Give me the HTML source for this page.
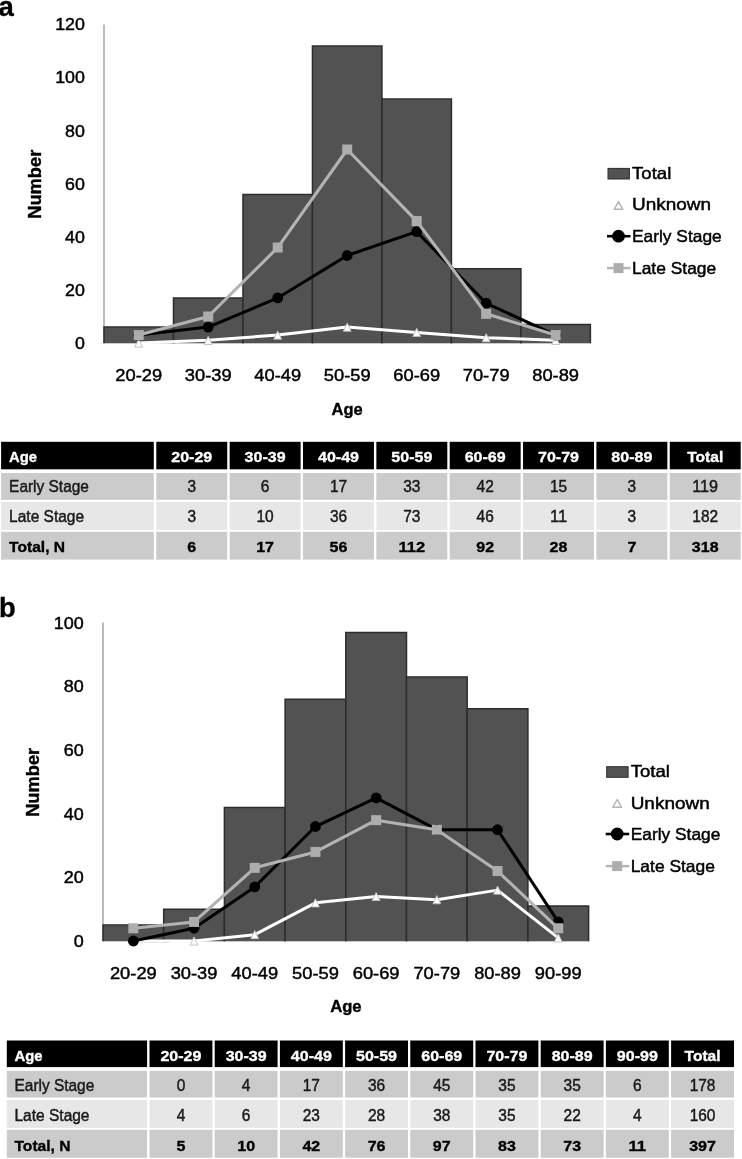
<!DOCTYPE html>
<html><head><meta charset="utf-8"><title>Figure</title>
<style>
html,body{margin:0;padding:0;background:#fff;}
body{width:742px;height:1159px;overflow:hidden;font-family:"Liberation Sans", sans-serif;}
svg{display:block;will-change:transform;transform:translateZ(0);}
</style></head><body>
<svg width="742" height="1159" viewBox="0 0 742 1159" font-family='"Liberation Sans", sans-serif'>
<rect width="742" height="1159" fill="#fff"/>
<text x="-1.50" y="15.60" font-size="27.5" text-anchor="start" fill="#000" font-weight="bold" stroke="#000" stroke-width="0.35">a</text>
<text x="-0.90" y="617.00" font-size="27.3" text-anchor="start" fill="#000" font-weight="bold" stroke="#000" stroke-width="0.35">b</text>
<line x1="104" y1="24.4" x2="104" y2="343" stroke="#a0a0a0" stroke-width="1.4"/>
<rect x="104.00" y="327.10" width="69.49" height="16.21" fill="#525252"/>
<path d="M104.00 343.30 V327.10 H173.49 V343.30" fill="none" stroke="#2d2d2d" stroke-width="1.5"/>
<rect x="173.49" y="297.94" width="69.49" height="45.36" fill="#525252"/>
<path d="M173.49 343.30 V297.94 H242.97 V343.30" fill="none" stroke="#2d2d2d" stroke-width="1.5"/>
<rect x="242.97" y="194.55" width="69.49" height="148.75" fill="#525252"/>
<path d="M242.97 343.30 V194.55 H312.46 V343.30" fill="none" stroke="#2d2d2d" stroke-width="1.5"/>
<rect x="312.46" y="46.11" width="69.49" height="297.19" fill="#525252"/>
<path d="M312.46 343.30 V46.11 H381.94 V343.30" fill="none" stroke="#2d2d2d" stroke-width="1.5"/>
<rect x="381.94" y="99.12" width="69.49" height="244.18" fill="#525252"/>
<path d="M381.94 343.30 V99.12 H451.43 V343.30" fill="none" stroke="#2d2d2d" stroke-width="1.5"/>
<rect x="451.43" y="268.78" width="69.49" height="74.52" fill="#525252"/>
<path d="M451.43 343.30 V268.78 H520.91 V343.30" fill="none" stroke="#2d2d2d" stroke-width="1.5"/>
<rect x="520.91" y="324.44" width="69.49" height="18.86" fill="#525252"/>
<path d="M520.91 343.30 V324.44 H590.40 V343.30" fill="none" stroke="#2d2d2d" stroke-width="1.5"/>
<text x="84.90" y="348.99" font-size="17" text-anchor="end" fill="#000" stroke="#000" stroke-width="0.45" textLength="9.90" lengthAdjust="spacingAndGlyphs">0</text>
<text x="84.90" y="295.89" font-size="17" text-anchor="end" fill="#000" stroke="#000" stroke-width="0.45" textLength="19.80" lengthAdjust="spacingAndGlyphs">20</text>
<text x="84.90" y="242.79" font-size="17" text-anchor="end" fill="#000" stroke="#000" stroke-width="0.45" textLength="19.80" lengthAdjust="spacingAndGlyphs">40</text>
<text x="84.90" y="189.69" font-size="17" text-anchor="end" fill="#000" stroke="#000" stroke-width="0.45" textLength="19.80" lengthAdjust="spacingAndGlyphs">60</text>
<text x="84.90" y="136.59" font-size="17" text-anchor="end" fill="#000" stroke="#000" stroke-width="0.45" textLength="19.80" lengthAdjust="spacingAndGlyphs">80</text>
<text x="84.90" y="83.49" font-size="17" text-anchor="end" fill="#000" stroke="#000" stroke-width="0.45" textLength="29.70" lengthAdjust="spacingAndGlyphs">100</text>
<text x="84.90" y="30.39" font-size="17" text-anchor="end" fill="#000" stroke="#000" stroke-width="0.45" textLength="29.70" lengthAdjust="spacingAndGlyphs">120</text>
<text x="138.74" y="381.29" font-size="17" text-anchor="middle" fill="#000" stroke="#000" stroke-width="0.45" textLength="46.80" lengthAdjust="spacingAndGlyphs">20-29</text>
<text x="208.23" y="381.29" font-size="17" text-anchor="middle" fill="#000" stroke="#000" stroke-width="0.45" textLength="46.80" lengthAdjust="spacingAndGlyphs">30-39</text>
<text x="277.71" y="381.29" font-size="17" text-anchor="middle" fill="#000" stroke="#000" stroke-width="0.45" textLength="46.80" lengthAdjust="spacingAndGlyphs">40-49</text>
<text x="347.20" y="381.29" font-size="17" text-anchor="middle" fill="#000" stroke="#000" stroke-width="0.45" textLength="46.80" lengthAdjust="spacingAndGlyphs">50-59</text>
<text x="416.69" y="381.29" font-size="17" text-anchor="middle" fill="#000" stroke="#000" stroke-width="0.45" textLength="46.80" lengthAdjust="spacingAndGlyphs">60-69</text>
<text x="486.17" y="381.29" font-size="17" text-anchor="middle" fill="#000" stroke="#000" stroke-width="0.45" textLength="46.80" lengthAdjust="spacingAndGlyphs">70-79</text>
<text x="555.66" y="381.29" font-size="17" text-anchor="middle" fill="#000" stroke="#000" stroke-width="0.45" textLength="46.80" lengthAdjust="spacingAndGlyphs">80-89</text>
<polyline points="138.74,343.00 208.23,340.35 277.71,335.05 347.20,327.10 416.69,332.40 486.17,337.70 555.66,340.35" fill="none" stroke="#fff" stroke-width="3" stroke-linejoin="round"/>
<path d="M138.74 338.90 L142.64 347.10 L134.84 347.10 Z" fill="#fff" stroke="#bcbcbc" stroke-width="0.9"/>
<path d="M208.23 336.25 L212.13 344.45 L204.33 344.45 Z" fill="#fff" stroke="#bcbcbc" stroke-width="0.9"/>
<path d="M277.71 330.95 L281.61 339.15 L273.81 339.15 Z" fill="#fff" stroke="#bcbcbc" stroke-width="0.9"/>
<path d="M347.20 323.00 L351.10 331.20 L343.30 331.20 Z" fill="#fff" stroke="#bcbcbc" stroke-width="0.9"/>
<path d="M416.69 328.30 L420.59 336.50 L412.79 336.50 Z" fill="#fff" stroke="#bcbcbc" stroke-width="0.9"/>
<path d="M486.17 333.60 L490.07 341.80 L482.27 341.80 Z" fill="#fff" stroke="#bcbcbc" stroke-width="0.9"/>
<path d="M555.66 336.25 L559.56 344.45 L551.76 344.45 Z" fill="#fff" stroke="#bcbcbc" stroke-width="0.9"/>
<polyline points="138.74,335.05 208.23,327.10 277.71,297.94 347.20,255.52 416.69,231.66 486.17,303.24 555.66,335.05" fill="none" stroke="#000" stroke-width="3" stroke-linejoin="round"/>
<circle cx="138.74" cy="335.05" r="5.4" fill="#000"/>
<circle cx="208.23" cy="327.10" r="5.4" fill="#000"/>
<circle cx="277.71" cy="297.94" r="5.4" fill="#000"/>
<circle cx="347.20" cy="255.52" r="5.4" fill="#000"/>
<circle cx="416.69" cy="231.66" r="5.4" fill="#000"/>
<circle cx="486.17" cy="303.24" r="5.4" fill="#000"/>
<circle cx="555.66" cy="335.05" r="5.4" fill="#000"/>
<polyline points="138.74,335.05 208.23,316.49 277.71,247.57 347.20,149.49 416.69,221.06 486.17,313.84 555.66,335.05" fill="none" stroke="#b3b3b3" stroke-width="3.1" stroke-linejoin="round"/>
<rect x="133.74" y="330.05" width="10" height="10" fill="#adadad"/>
<rect x="203.23" y="311.49" width="10" height="10" fill="#adadad"/>
<rect x="272.71" y="242.57" width="10" height="10" fill="#adadad"/>
<rect x="342.20" y="144.49" width="10" height="10" fill="#adadad"/>
<rect x="411.69" y="216.06" width="10" height="10" fill="#adadad"/>
<rect x="481.17" y="308.84" width="10" height="10" fill="#adadad"/>
<rect x="550.66" y="330.05" width="10" height="10" fill="#adadad"/>
<rect x="608.00" y="168.40" width="21.4" height="10.6" fill="#525252" stroke="#2d2d2d" stroke-width="1"/>
<text x="632.00" y="178.61" font-size="16.5" text-anchor="start" fill="#000" stroke="#000" stroke-width="0.45" textLength="39.30" lengthAdjust="spacingAndGlyphs">Total</text>
<path d="M618.50 201.60 L622.80 209.30 L614.20 209.30 Z" fill="#fff" stroke="#b4b4b4" stroke-width="1.4" stroke-linejoin="round"/>
<text x="632.00" y="210.41" font-size="16.5" text-anchor="start" fill="#000" stroke="#000" stroke-width="0.45" textLength="79.00" lengthAdjust="spacingAndGlyphs">Unknown</text>
<line x1="607.00" y1="236.2" x2="630.50" y2="236.2" stroke="#000" stroke-width="2.6"/>
<circle cx="618.50" cy="236.2" r="6.4" fill="#000"/>
<text x="632.00" y="241.71" font-size="16.5" text-anchor="start" fill="#000" stroke="#000" stroke-width="0.45" textLength="89.70" lengthAdjust="spacingAndGlyphs">Early Stage</text>
<line x1="607.00" y1="268.1" x2="630.50" y2="268.1" stroke="#b3b3b3" stroke-width="2.4"/>
<rect x="613.50" y="263.1" width="10" height="10" fill="#adadad"/>
<text x="632.00" y="273.71" font-size="16.5" text-anchor="start" fill="#000" stroke="#000" stroke-width="0.45" textLength="84.20" lengthAdjust="spacingAndGlyphs">Late Stage</text>
<line x1="176" y1="343.5" x2="204" y2="343.5" stroke="#cdcdcd" stroke-width="0.9"/>
<text x="347.20" y="414.80" font-size="16.5" text-anchor="middle" fill="#000" font-weight="bold" stroke="#000" stroke-width="0.35">Age</text>
<text x="40.60" y="184.20" font-size="18.3" text-anchor="middle" fill="#000" font-weight="bold" stroke="#000" stroke-width="0.35" transform="rotate(-90 40.60 184.20)">Number</text>
<line x1="103" y1="622.4" x2="103" y2="941" stroke="#a0a0a0" stroke-width="1.4"/>
<rect x="103.00" y="925.10" width="60.70" height="16.20" fill="#525252"/>
<path d="M103.00 941.30 V925.10 H163.70 V941.30" fill="none" stroke="#2d2d2d" stroke-width="1.5"/>
<rect x="163.70" y="909.20" width="60.70" height="32.10" fill="#525252"/>
<path d="M163.70 941.30 V909.20 H224.40 V941.30" fill="none" stroke="#2d2d2d" stroke-width="1.5"/>
<rect x="224.40" y="807.44" width="60.70" height="133.86" fill="#525252"/>
<path d="M224.40 941.30 V807.44 H285.10 V941.30" fill="none" stroke="#2d2d2d" stroke-width="1.5"/>
<rect x="285.10" y="699.32" width="60.70" height="241.98" fill="#525252"/>
<path d="M285.10 941.30 V699.32 H345.80 V941.30" fill="none" stroke="#2d2d2d" stroke-width="1.5"/>
<rect x="345.80" y="632.54" width="60.70" height="308.76" fill="#525252"/>
<path d="M345.80 941.30 V632.54 H406.50 V941.30" fill="none" stroke="#2d2d2d" stroke-width="1.5"/>
<rect x="406.50" y="677.06" width="60.70" height="264.24" fill="#525252"/>
<path d="M406.50 941.30 V677.06 H467.20 V941.30" fill="none" stroke="#2d2d2d" stroke-width="1.5"/>
<rect x="467.20" y="708.86" width="60.70" height="232.44" fill="#525252"/>
<path d="M467.20 941.30 V708.86 H527.90 V941.30" fill="none" stroke="#2d2d2d" stroke-width="1.5"/>
<rect x="527.90" y="906.02" width="60.70" height="35.28" fill="#525252"/>
<path d="M527.90 941.30 V906.02 H588.60 V941.30" fill="none" stroke="#2d2d2d" stroke-width="1.5"/>
<text x="83.80" y="947.09" font-size="17" text-anchor="end" fill="#000" stroke="#000" stroke-width="0.45" textLength="10.00" lengthAdjust="spacingAndGlyphs">0</text>
<text x="83.80" y="883.41" font-size="17" text-anchor="end" fill="#000" stroke="#000" stroke-width="0.45" textLength="20.00" lengthAdjust="spacingAndGlyphs">20</text>
<text x="83.80" y="819.73" font-size="17" text-anchor="end" fill="#000" stroke="#000" stroke-width="0.45" textLength="20.00" lengthAdjust="spacingAndGlyphs">40</text>
<text x="83.80" y="756.05" font-size="17" text-anchor="end" fill="#000" stroke="#000" stroke-width="0.45" textLength="20.00" lengthAdjust="spacingAndGlyphs">60</text>
<text x="83.80" y="692.37" font-size="17" text-anchor="end" fill="#000" stroke="#000" stroke-width="0.45" textLength="20.00" lengthAdjust="spacingAndGlyphs">80</text>
<text x="83.80" y="628.69" font-size="17" text-anchor="end" fill="#000" stroke="#000" stroke-width="0.45" textLength="30.00" lengthAdjust="spacingAndGlyphs">100</text>
<text x="133.35" y="979.09" font-size="17" text-anchor="middle" fill="#000" stroke="#000" stroke-width="0.45" textLength="46.80" lengthAdjust="spacingAndGlyphs">20-29</text>
<text x="194.05" y="979.09" font-size="17" text-anchor="middle" fill="#000" stroke="#000" stroke-width="0.45" textLength="46.80" lengthAdjust="spacingAndGlyphs">30-39</text>
<text x="254.75" y="979.09" font-size="17" text-anchor="middle" fill="#000" stroke="#000" stroke-width="0.45" textLength="46.80" lengthAdjust="spacingAndGlyphs">40-49</text>
<text x="315.45" y="979.09" font-size="17" text-anchor="middle" fill="#000" stroke="#000" stroke-width="0.45" textLength="46.80" lengthAdjust="spacingAndGlyphs">50-59</text>
<text x="376.15" y="979.09" font-size="17" text-anchor="middle" fill="#000" stroke="#000" stroke-width="0.45" textLength="46.80" lengthAdjust="spacingAndGlyphs">60-69</text>
<text x="436.85" y="979.09" font-size="17" text-anchor="middle" fill="#000" stroke="#000" stroke-width="0.45" textLength="46.80" lengthAdjust="spacingAndGlyphs">70-79</text>
<text x="497.55" y="979.09" font-size="17" text-anchor="middle" fill="#000" stroke="#000" stroke-width="0.45" textLength="46.80" lengthAdjust="spacingAndGlyphs">80-89</text>
<text x="558.25" y="979.09" font-size="17" text-anchor="middle" fill="#000" stroke="#000" stroke-width="0.45" textLength="46.80" lengthAdjust="spacingAndGlyphs">90-99</text>
<polyline points="133.35,941.00 194.05,941.00 254.75,934.64 315.45,902.84 376.15,896.48 436.85,899.66 497.55,890.12 558.25,937.82" fill="none" stroke="#fff" stroke-width="3" stroke-linejoin="round"/>
<path d="M133.35 936.90 L137.25 945.10 L129.45 945.10 Z" fill="#fff" stroke="#bcbcbc" stroke-width="0.9"/>
<path d="M194.05 936.90 L197.95 945.10 L190.15 945.10 Z" fill="#fff" stroke="#bcbcbc" stroke-width="0.9"/>
<path d="M254.75 930.54 L258.65 938.74 L250.85 938.74 Z" fill="#fff" stroke="#bcbcbc" stroke-width="0.9"/>
<path d="M315.45 898.74 L319.35 906.94 L311.55 906.94 Z" fill="#fff" stroke="#bcbcbc" stroke-width="0.9"/>
<path d="M376.15 892.38 L380.05 900.58 L372.25 900.58 Z" fill="#fff" stroke="#bcbcbc" stroke-width="0.9"/>
<path d="M436.85 895.56 L440.75 903.76 L432.95 903.76 Z" fill="#fff" stroke="#bcbcbc" stroke-width="0.9"/>
<path d="M497.55 886.02 L501.45 894.22 L493.65 894.22 Z" fill="#fff" stroke="#bcbcbc" stroke-width="0.9"/>
<path d="M558.25 933.72 L562.15 941.92 L554.35 941.92 Z" fill="#fff" stroke="#bcbcbc" stroke-width="0.9"/>
<polyline points="133.35,941.00 194.05,928.28 254.75,886.94 315.45,826.52 376.15,797.90 436.85,829.70 497.55,829.70 558.25,921.92" fill="none" stroke="#000" stroke-width="3" stroke-linejoin="round"/>
<circle cx="133.35" cy="941.00" r="5.4" fill="#000"/>
<circle cx="194.05" cy="928.28" r="5.4" fill="#000"/>
<circle cx="254.75" cy="886.94" r="5.4" fill="#000"/>
<circle cx="315.45" cy="826.52" r="5.4" fill="#000"/>
<circle cx="376.15" cy="797.90" r="5.4" fill="#000"/>
<circle cx="436.85" cy="829.70" r="5.4" fill="#000"/>
<circle cx="497.55" cy="829.70" r="5.4" fill="#000"/>
<circle cx="558.25" cy="921.92" r="5.4" fill="#000"/>
<polyline points="133.35,928.28 194.05,921.92 254.75,867.86 315.45,851.96 376.15,820.16 436.85,829.70 497.55,871.04 558.25,928.28" fill="none" stroke="#b3b3b3" stroke-width="3.1" stroke-linejoin="round"/>
<rect x="128.35" y="923.28" width="10" height="10" fill="#adadad"/>
<rect x="189.05" y="916.92" width="10" height="10" fill="#adadad"/>
<rect x="249.75" y="862.86" width="10" height="10" fill="#adadad"/>
<rect x="310.45" y="846.96" width="10" height="10" fill="#adadad"/>
<rect x="371.15" y="815.16" width="10" height="10" fill="#adadad"/>
<rect x="431.85" y="824.70" width="10" height="10" fill="#adadad"/>
<rect x="492.55" y="866.04" width="10" height="10" fill="#adadad"/>
<rect x="553.25" y="923.28" width="10" height="10" fill="#adadad"/>
<rect x="606.70" y="766.70" width="21.4" height="10.6" fill="#525252" stroke="#2d2d2d" stroke-width="1"/>
<text x="630.70" y="777.11" font-size="16.5" text-anchor="start" fill="#000" stroke="#000" stroke-width="0.45" textLength="39.30" lengthAdjust="spacingAndGlyphs">Total</text>
<path d="M617.20 799.50 L621.50 807.20 L612.90 807.20 Z" fill="#fff" stroke="#b4b4b4" stroke-width="1.4" stroke-linejoin="round"/>
<text x="630.70" y="808.71" font-size="16.5" text-anchor="start" fill="#000" stroke="#000" stroke-width="0.45" textLength="79.00" lengthAdjust="spacingAndGlyphs">Unknown</text>
<line x1="605.70" y1="834.0" x2="629.20" y2="834.0" stroke="#000" stroke-width="2.6"/>
<circle cx="617.20" cy="834.0" r="6.4" fill="#000"/>
<text x="630.70" y="839.91" font-size="16.5" text-anchor="start" fill="#000" stroke="#000" stroke-width="0.45" textLength="89.70" lengthAdjust="spacingAndGlyphs">Early Stage</text>
<line x1="605.70" y1="866.1" x2="629.20" y2="866.1" stroke="#b3b3b3" stroke-width="2.4"/>
<rect x="612.20" y="861.1" width="10" height="10" fill="#adadad"/>
<text x="630.70" y="871.81" font-size="16.5" text-anchor="start" fill="#000" stroke="#000" stroke-width="0.45" textLength="84.20" lengthAdjust="spacingAndGlyphs">Late Stage</text>
<line x1="140" y1="942.2" x2="170" y2="942.2" stroke="#d6d6d6" stroke-width="0.8"/>
<text x="345.90" y="1012.10" font-size="16.7" text-anchor="middle" fill="#000" font-weight="bold" stroke="#000" stroke-width="0.35">Age</text>
<text x="39.40" y="782.30" font-size="18.3" text-anchor="middle" fill="#000" font-weight="bold" stroke="#000" stroke-width="0.35" transform="rotate(-90 39.40 782.30)">Number</text>
<rect x="1.1" y="441.8" width="152.70" height="27.50" fill="#000"/>
<rect x="156.30" y="441.8" width="70.95" height="27.50" fill="#000"/>
<rect x="229.65" y="441.8" width="70.95" height="27.50" fill="#000"/>
<rect x="303.00" y="441.8" width="70.95" height="27.50" fill="#000"/>
<rect x="376.35" y="441.8" width="70.95" height="27.50" fill="#000"/>
<rect x="449.70" y="441.8" width="70.95" height="27.50" fill="#000"/>
<rect x="523.05" y="441.8" width="70.95" height="27.50" fill="#000"/>
<rect x="596.40" y="441.8" width="70.95" height="27.50" fill="#000"/>
<rect x="669.75" y="441.8" width="70.95" height="27.50" fill="#000"/>
<rect x="1.1" y="473.0" width="152.70" height="26.90" fill="#cbcbcb"/>
<rect x="156.30" y="473.0" width="70.95" height="26.90" fill="#cbcbcb"/>
<rect x="229.65" y="473.0" width="70.95" height="26.90" fill="#cbcbcb"/>
<rect x="303.00" y="473.0" width="70.95" height="26.90" fill="#cbcbcb"/>
<rect x="376.35" y="473.0" width="70.95" height="26.90" fill="#cbcbcb"/>
<rect x="449.70" y="473.0" width="70.95" height="26.90" fill="#cbcbcb"/>
<rect x="523.05" y="473.0" width="70.95" height="26.90" fill="#cbcbcb"/>
<rect x="596.40" y="473.0" width="70.95" height="26.90" fill="#cbcbcb"/>
<rect x="669.75" y="473.0" width="70.95" height="26.90" fill="#cbcbcb"/>
<rect x="1.1" y="501.9" width="152.70" height="27.90" fill="#e7e7e7"/>
<rect x="156.30" y="501.9" width="70.95" height="27.90" fill="#e7e7e7"/>
<rect x="229.65" y="501.9" width="70.95" height="27.90" fill="#e7e7e7"/>
<rect x="303.00" y="501.9" width="70.95" height="27.90" fill="#e7e7e7"/>
<rect x="376.35" y="501.9" width="70.95" height="27.90" fill="#e7e7e7"/>
<rect x="449.70" y="501.9" width="70.95" height="27.90" fill="#e7e7e7"/>
<rect x="523.05" y="501.9" width="70.95" height="27.90" fill="#e7e7e7"/>
<rect x="596.40" y="501.9" width="70.95" height="27.90" fill="#e7e7e7"/>
<rect x="669.75" y="501.9" width="70.95" height="27.90" fill="#e7e7e7"/>
<rect x="1.1" y="531.8" width="152.70" height="27.80" fill="#cbcbcb"/>
<rect x="156.30" y="531.8" width="70.95" height="27.80" fill="#cbcbcb"/>
<rect x="229.65" y="531.8" width="70.95" height="27.80" fill="#cbcbcb"/>
<rect x="303.00" y="531.8" width="70.95" height="27.80" fill="#cbcbcb"/>
<rect x="376.35" y="531.8" width="70.95" height="27.80" fill="#cbcbcb"/>
<rect x="449.70" y="531.8" width="70.95" height="27.80" fill="#cbcbcb"/>
<rect x="523.05" y="531.8" width="70.95" height="27.80" fill="#cbcbcb"/>
<rect x="596.40" y="531.8" width="70.95" height="27.80" fill="#cbcbcb"/>
<rect x="669.75" y="531.8" width="70.95" height="27.80" fill="#cbcbcb"/>
<text x="9.10" y="462.40" font-size="15.5" text-anchor="start" fill="#fff" font-weight="bold" stroke="#fff" stroke-width="0.35" textLength="28.00" lengthAdjust="spacingAndGlyphs">Age</text>
<text x="191.78" y="462.40" font-size="15.5" text-anchor="middle" fill="#fff" font-weight="bold" stroke="#fff" stroke-width="0.35" textLength="41.00" lengthAdjust="spacingAndGlyphs">20-29</text>
<text x="265.12" y="462.40" font-size="15.5" text-anchor="middle" fill="#fff" font-weight="bold" stroke="#fff" stroke-width="0.35" textLength="41.00" lengthAdjust="spacingAndGlyphs">30-39</text>
<text x="338.48" y="462.40" font-size="15.5" text-anchor="middle" fill="#fff" font-weight="bold" stroke="#fff" stroke-width="0.35" textLength="41.00" lengthAdjust="spacingAndGlyphs">40-49</text>
<text x="411.83" y="462.40" font-size="15.5" text-anchor="middle" fill="#fff" font-weight="bold" stroke="#fff" stroke-width="0.35" textLength="41.00" lengthAdjust="spacingAndGlyphs">50-59</text>
<text x="485.17" y="462.40" font-size="15.5" text-anchor="middle" fill="#fff" font-weight="bold" stroke="#fff" stroke-width="0.35" textLength="41.00" lengthAdjust="spacingAndGlyphs">60-69</text>
<text x="558.52" y="462.40" font-size="15.5" text-anchor="middle" fill="#fff" font-weight="bold" stroke="#fff" stroke-width="0.35" textLength="41.00" lengthAdjust="spacingAndGlyphs">70-79</text>
<text x="631.88" y="462.40" font-size="15.5" text-anchor="middle" fill="#fff" font-weight="bold" stroke="#fff" stroke-width="0.35" textLength="41.00" lengthAdjust="spacingAndGlyphs">80-89</text>
<text x="705.23" y="462.40" font-size="15.5" text-anchor="middle" fill="#fff" font-weight="bold" stroke="#fff" stroke-width="0.35" textLength="36.00" lengthAdjust="spacingAndGlyphs">Total</text>
<text x="9.10" y="492.40" font-size="16" text-anchor="start" fill="#1a1a1a" stroke="#1a1a1a" stroke-width="0.45" textLength="79.80" lengthAdjust="spacingAndGlyphs">Early Stage</text>
<text x="191.78" y="492.40" font-size="16" text-anchor="middle" fill="#1a1a1a" stroke="#1a1a1a" stroke-width="0.45" textLength="8.60" lengthAdjust="spacingAndGlyphs">3</text>
<text x="265.12" y="492.40" font-size="16" text-anchor="middle" fill="#1a1a1a" stroke="#1a1a1a" stroke-width="0.45" textLength="8.60" lengthAdjust="spacingAndGlyphs">6</text>
<text x="338.48" y="492.40" font-size="16" text-anchor="middle" fill="#1a1a1a" stroke="#1a1a1a" stroke-width="0.45" textLength="17.20" lengthAdjust="spacingAndGlyphs">17</text>
<text x="411.83" y="492.40" font-size="16" text-anchor="middle" fill="#1a1a1a" stroke="#1a1a1a" stroke-width="0.45" textLength="17.20" lengthAdjust="spacingAndGlyphs">33</text>
<text x="485.17" y="492.40" font-size="16" text-anchor="middle" fill="#1a1a1a" stroke="#1a1a1a" stroke-width="0.45" textLength="17.20" lengthAdjust="spacingAndGlyphs">42</text>
<text x="558.52" y="492.40" font-size="16" text-anchor="middle" fill="#1a1a1a" stroke="#1a1a1a" stroke-width="0.45" textLength="17.20" lengthAdjust="spacingAndGlyphs">15</text>
<text x="631.88" y="492.40" font-size="16" text-anchor="middle" fill="#1a1a1a" stroke="#1a1a1a" stroke-width="0.45" textLength="8.60" lengthAdjust="spacingAndGlyphs">3</text>
<text x="705.23" y="492.40" font-size="16" text-anchor="middle" fill="#1a1a1a" stroke="#1a1a1a" stroke-width="0.45" textLength="25.80" lengthAdjust="spacingAndGlyphs">119</text>
<text x="9.10" y="522.40" font-size="16" text-anchor="start" fill="#1a1a1a" stroke="#1a1a1a" stroke-width="0.45" textLength="75.00" lengthAdjust="spacingAndGlyphs">Late Stage</text>
<text x="191.78" y="522.40" font-size="16" text-anchor="middle" fill="#1a1a1a" stroke="#1a1a1a" stroke-width="0.45" textLength="8.60" lengthAdjust="spacingAndGlyphs">3</text>
<text x="265.12" y="522.40" font-size="16" text-anchor="middle" fill="#1a1a1a" stroke="#1a1a1a" stroke-width="0.45" textLength="17.20" lengthAdjust="spacingAndGlyphs">10</text>
<text x="338.48" y="522.40" font-size="16" text-anchor="middle" fill="#1a1a1a" stroke="#1a1a1a" stroke-width="0.45" textLength="17.20" lengthAdjust="spacingAndGlyphs">36</text>
<text x="411.83" y="522.40" font-size="16" text-anchor="middle" fill="#1a1a1a" stroke="#1a1a1a" stroke-width="0.45" textLength="17.20" lengthAdjust="spacingAndGlyphs">73</text>
<text x="485.17" y="522.40" font-size="16" text-anchor="middle" fill="#1a1a1a" stroke="#1a1a1a" stroke-width="0.45" textLength="17.20" lengthAdjust="spacingAndGlyphs">46</text>
<text x="558.52" y="522.40" font-size="16" text-anchor="middle" fill="#1a1a1a" stroke="#1a1a1a" stroke-width="0.45" textLength="17.20" lengthAdjust="spacingAndGlyphs">11</text>
<text x="631.88" y="522.40" font-size="16" text-anchor="middle" fill="#1a1a1a" stroke="#1a1a1a" stroke-width="0.45" textLength="8.60" lengthAdjust="spacingAndGlyphs">3</text>
<text x="705.23" y="522.40" font-size="16" text-anchor="middle" fill="#1a1a1a" stroke="#1a1a1a" stroke-width="0.45" textLength="25.80" lengthAdjust="spacingAndGlyphs">182</text>
<text x="9.10" y="552.40" font-size="15.5" text-anchor="start" fill="#000" font-weight="bold" stroke="#000" stroke-width="0.35" textLength="56.00" lengthAdjust="spacingAndGlyphs">Total, N</text>
<text x="191.78" y="552.40" font-size="15.5" text-anchor="middle" fill="#000" font-weight="bold" stroke="#000" stroke-width="0.35" textLength="8.90" lengthAdjust="spacingAndGlyphs">6</text>
<text x="265.12" y="552.40" font-size="15.5" text-anchor="middle" fill="#000" font-weight="bold" stroke="#000" stroke-width="0.35" textLength="17.80" lengthAdjust="spacingAndGlyphs">17</text>
<text x="338.48" y="552.40" font-size="15.5" text-anchor="middle" fill="#000" font-weight="bold" stroke="#000" stroke-width="0.35" textLength="17.80" lengthAdjust="spacingAndGlyphs">56</text>
<text x="411.83" y="552.40" font-size="15.5" text-anchor="middle" fill="#000" font-weight="bold" stroke="#000" stroke-width="0.35" textLength="26.70" lengthAdjust="spacingAndGlyphs">112</text>
<text x="485.17" y="552.40" font-size="15.5" text-anchor="middle" fill="#000" font-weight="bold" stroke="#000" stroke-width="0.35" textLength="17.80" lengthAdjust="spacingAndGlyphs">92</text>
<text x="558.52" y="552.40" font-size="15.5" text-anchor="middle" fill="#000" font-weight="bold" stroke="#000" stroke-width="0.35" textLength="17.80" lengthAdjust="spacingAndGlyphs">28</text>
<text x="631.88" y="552.40" font-size="15.5" text-anchor="middle" fill="#000" font-weight="bold" stroke="#000" stroke-width="0.35" textLength="8.90" lengthAdjust="spacingAndGlyphs">7</text>
<text x="705.23" y="552.40" font-size="15.5" text-anchor="middle" fill="#000" font-weight="bold" stroke="#000" stroke-width="0.35" textLength="26.70" lengthAdjust="spacingAndGlyphs">318</text>
<rect x="6.8" y="1040.5" width="140.30" height="26.60" fill="#000"/>
<rect x="149.50" y="1040.5" width="62.90" height="26.60" fill="#000"/>
<rect x="214.70" y="1040.5" width="62.90" height="26.60" fill="#000"/>
<rect x="279.90" y="1040.5" width="62.90" height="26.60" fill="#000"/>
<rect x="345.10" y="1040.5" width="62.90" height="26.60" fill="#000"/>
<rect x="410.30" y="1040.5" width="62.90" height="26.60" fill="#000"/>
<rect x="475.50" y="1040.5" width="62.90" height="26.60" fill="#000"/>
<rect x="540.70" y="1040.5" width="62.90" height="26.60" fill="#000"/>
<rect x="605.90" y="1040.5" width="62.90" height="26.60" fill="#000"/>
<rect x="671.10" y="1040.5" width="62.90" height="26.60" fill="#000"/>
<rect x="6.8" y="1070.9" width="140.30" height="26.60" fill="#cbcbcb"/>
<rect x="149.50" y="1070.9" width="62.90" height="26.60" fill="#cbcbcb"/>
<rect x="214.70" y="1070.9" width="62.90" height="26.60" fill="#cbcbcb"/>
<rect x="279.90" y="1070.9" width="62.90" height="26.60" fill="#cbcbcb"/>
<rect x="345.10" y="1070.9" width="62.90" height="26.60" fill="#cbcbcb"/>
<rect x="410.30" y="1070.9" width="62.90" height="26.60" fill="#cbcbcb"/>
<rect x="475.50" y="1070.9" width="62.90" height="26.60" fill="#cbcbcb"/>
<rect x="540.70" y="1070.9" width="62.90" height="26.60" fill="#cbcbcb"/>
<rect x="605.90" y="1070.9" width="62.90" height="26.60" fill="#cbcbcb"/>
<rect x="671.10" y="1070.9" width="62.90" height="26.60" fill="#cbcbcb"/>
<rect x="6.8" y="1099.9" width="140.30" height="28.00" fill="#e7e7e7"/>
<rect x="149.50" y="1099.9" width="62.90" height="28.00" fill="#e7e7e7"/>
<rect x="214.70" y="1099.9" width="62.90" height="28.00" fill="#e7e7e7"/>
<rect x="279.90" y="1099.9" width="62.90" height="28.00" fill="#e7e7e7"/>
<rect x="345.10" y="1099.9" width="62.90" height="28.00" fill="#e7e7e7"/>
<rect x="410.30" y="1099.9" width="62.90" height="28.00" fill="#e7e7e7"/>
<rect x="475.50" y="1099.9" width="62.90" height="28.00" fill="#e7e7e7"/>
<rect x="540.70" y="1099.9" width="62.90" height="28.00" fill="#e7e7e7"/>
<rect x="605.90" y="1099.9" width="62.90" height="28.00" fill="#e7e7e7"/>
<rect x="671.10" y="1099.9" width="62.90" height="28.00" fill="#e7e7e7"/>
<rect x="6.8" y="1129.8" width="140.30" height="27.90" fill="#cbcbcb"/>
<rect x="149.50" y="1129.8" width="62.90" height="27.90" fill="#cbcbcb"/>
<rect x="214.70" y="1129.8" width="62.90" height="27.90" fill="#cbcbcb"/>
<rect x="279.90" y="1129.8" width="62.90" height="27.90" fill="#cbcbcb"/>
<rect x="345.10" y="1129.8" width="62.90" height="27.90" fill="#cbcbcb"/>
<rect x="410.30" y="1129.8" width="62.90" height="27.90" fill="#cbcbcb"/>
<rect x="475.50" y="1129.8" width="62.90" height="27.90" fill="#cbcbcb"/>
<rect x="540.70" y="1129.8" width="62.90" height="27.90" fill="#cbcbcb"/>
<rect x="605.90" y="1129.8" width="62.90" height="27.90" fill="#cbcbcb"/>
<rect x="671.10" y="1129.8" width="62.90" height="27.90" fill="#cbcbcb"/>
<text x="14.50" y="1061.00" font-size="15.5" text-anchor="start" fill="#fff" font-weight="bold" stroke="#fff" stroke-width="0.35" textLength="28.00" lengthAdjust="spacingAndGlyphs">Age</text>
<text x="180.95" y="1061.00" font-size="15.5" text-anchor="middle" fill="#fff" font-weight="bold" stroke="#fff" stroke-width="0.35" textLength="41.00" lengthAdjust="spacingAndGlyphs">20-29</text>
<text x="246.15" y="1061.00" font-size="15.5" text-anchor="middle" fill="#fff" font-weight="bold" stroke="#fff" stroke-width="0.35" textLength="41.00" lengthAdjust="spacingAndGlyphs">30-39</text>
<text x="311.35" y="1061.00" font-size="15.5" text-anchor="middle" fill="#fff" font-weight="bold" stroke="#fff" stroke-width="0.35" textLength="41.00" lengthAdjust="spacingAndGlyphs">40-49</text>
<text x="376.55" y="1061.00" font-size="15.5" text-anchor="middle" fill="#fff" font-weight="bold" stroke="#fff" stroke-width="0.35" textLength="41.00" lengthAdjust="spacingAndGlyphs">50-59</text>
<text x="441.75" y="1061.00" font-size="15.5" text-anchor="middle" fill="#fff" font-weight="bold" stroke="#fff" stroke-width="0.35" textLength="41.00" lengthAdjust="spacingAndGlyphs">60-69</text>
<text x="506.95" y="1061.00" font-size="15.5" text-anchor="middle" fill="#fff" font-weight="bold" stroke="#fff" stroke-width="0.35" textLength="41.00" lengthAdjust="spacingAndGlyphs">70-79</text>
<text x="572.15" y="1061.00" font-size="15.5" text-anchor="middle" fill="#fff" font-weight="bold" stroke="#fff" stroke-width="0.35" textLength="41.00" lengthAdjust="spacingAndGlyphs">80-89</text>
<text x="637.35" y="1061.00" font-size="15.5" text-anchor="middle" fill="#fff" font-weight="bold" stroke="#fff" stroke-width="0.35" textLength="41.00" lengthAdjust="spacingAndGlyphs">90-99</text>
<text x="702.55" y="1061.00" font-size="15.5" text-anchor="middle" fill="#fff" font-weight="bold" stroke="#fff" stroke-width="0.35" textLength="36.00" lengthAdjust="spacingAndGlyphs">Total</text>
<text x="14.50" y="1091.00" font-size="16" text-anchor="start" fill="#1a1a1a" stroke="#1a1a1a" stroke-width="0.45" textLength="79.80" lengthAdjust="spacingAndGlyphs">Early Stage</text>
<text x="180.95" y="1091.00" font-size="16" text-anchor="middle" fill="#1a1a1a" stroke="#1a1a1a" stroke-width="0.45" textLength="8.60" lengthAdjust="spacingAndGlyphs">0</text>
<text x="246.15" y="1091.00" font-size="16" text-anchor="middle" fill="#1a1a1a" stroke="#1a1a1a" stroke-width="0.45" textLength="8.60" lengthAdjust="spacingAndGlyphs">4</text>
<text x="311.35" y="1091.00" font-size="16" text-anchor="middle" fill="#1a1a1a" stroke="#1a1a1a" stroke-width="0.45" textLength="17.20" lengthAdjust="spacingAndGlyphs">17</text>
<text x="376.55" y="1091.00" font-size="16" text-anchor="middle" fill="#1a1a1a" stroke="#1a1a1a" stroke-width="0.45" textLength="17.20" lengthAdjust="spacingAndGlyphs">36</text>
<text x="441.75" y="1091.00" font-size="16" text-anchor="middle" fill="#1a1a1a" stroke="#1a1a1a" stroke-width="0.45" textLength="17.20" lengthAdjust="spacingAndGlyphs">45</text>
<text x="506.95" y="1091.00" font-size="16" text-anchor="middle" fill="#1a1a1a" stroke="#1a1a1a" stroke-width="0.45" textLength="17.20" lengthAdjust="spacingAndGlyphs">35</text>
<text x="572.15" y="1091.00" font-size="16" text-anchor="middle" fill="#1a1a1a" stroke="#1a1a1a" stroke-width="0.45" textLength="17.20" lengthAdjust="spacingAndGlyphs">35</text>
<text x="637.35" y="1091.00" font-size="16" text-anchor="middle" fill="#1a1a1a" stroke="#1a1a1a" stroke-width="0.45" textLength="8.60" lengthAdjust="spacingAndGlyphs">6</text>
<text x="702.55" y="1091.00" font-size="16" text-anchor="middle" fill="#1a1a1a" stroke="#1a1a1a" stroke-width="0.45" textLength="25.80" lengthAdjust="spacingAndGlyphs">178</text>
<text x="14.50" y="1120.90" font-size="16" text-anchor="start" fill="#1a1a1a" stroke="#1a1a1a" stroke-width="0.45" textLength="75.00" lengthAdjust="spacingAndGlyphs">Late Stage</text>
<text x="180.95" y="1120.90" font-size="16" text-anchor="middle" fill="#1a1a1a" stroke="#1a1a1a" stroke-width="0.45" textLength="8.60" lengthAdjust="spacingAndGlyphs">4</text>
<text x="246.15" y="1120.90" font-size="16" text-anchor="middle" fill="#1a1a1a" stroke="#1a1a1a" stroke-width="0.45" textLength="8.60" lengthAdjust="spacingAndGlyphs">6</text>
<text x="311.35" y="1120.90" font-size="16" text-anchor="middle" fill="#1a1a1a" stroke="#1a1a1a" stroke-width="0.45" textLength="17.20" lengthAdjust="spacingAndGlyphs">23</text>
<text x="376.55" y="1120.90" font-size="16" text-anchor="middle" fill="#1a1a1a" stroke="#1a1a1a" stroke-width="0.45" textLength="17.20" lengthAdjust="spacingAndGlyphs">28</text>
<text x="441.75" y="1120.90" font-size="16" text-anchor="middle" fill="#1a1a1a" stroke="#1a1a1a" stroke-width="0.45" textLength="17.20" lengthAdjust="spacingAndGlyphs">38</text>
<text x="506.95" y="1120.90" font-size="16" text-anchor="middle" fill="#1a1a1a" stroke="#1a1a1a" stroke-width="0.45" textLength="17.20" lengthAdjust="spacingAndGlyphs">35</text>
<text x="572.15" y="1120.90" font-size="16" text-anchor="middle" fill="#1a1a1a" stroke="#1a1a1a" stroke-width="0.45" textLength="17.20" lengthAdjust="spacingAndGlyphs">22</text>
<text x="637.35" y="1120.90" font-size="16" text-anchor="middle" fill="#1a1a1a" stroke="#1a1a1a" stroke-width="0.45" textLength="8.60" lengthAdjust="spacingAndGlyphs">4</text>
<text x="702.55" y="1120.90" font-size="16" text-anchor="middle" fill="#1a1a1a" stroke="#1a1a1a" stroke-width="0.45" textLength="25.80" lengthAdjust="spacingAndGlyphs">160</text>
<text x="14.50" y="1150.80" font-size="15.5" text-anchor="start" fill="#000" font-weight="bold" stroke="#000" stroke-width="0.35" textLength="56.00" lengthAdjust="spacingAndGlyphs">Total, N</text>
<text x="180.95" y="1150.80" font-size="15.5" text-anchor="middle" fill="#000" font-weight="bold" stroke="#000" stroke-width="0.35" textLength="8.90" lengthAdjust="spacingAndGlyphs">5</text>
<text x="246.15" y="1150.80" font-size="15.5" text-anchor="middle" fill="#000" font-weight="bold" stroke="#000" stroke-width="0.35" textLength="17.80" lengthAdjust="spacingAndGlyphs">10</text>
<text x="311.35" y="1150.80" font-size="15.5" text-anchor="middle" fill="#000" font-weight="bold" stroke="#000" stroke-width="0.35" textLength="17.80" lengthAdjust="spacingAndGlyphs">42</text>
<text x="376.55" y="1150.80" font-size="15.5" text-anchor="middle" fill="#000" font-weight="bold" stroke="#000" stroke-width="0.35" textLength="17.80" lengthAdjust="spacingAndGlyphs">76</text>
<text x="441.75" y="1150.80" font-size="15.5" text-anchor="middle" fill="#000" font-weight="bold" stroke="#000" stroke-width="0.35" textLength="17.80" lengthAdjust="spacingAndGlyphs">97</text>
<text x="506.95" y="1150.80" font-size="15.5" text-anchor="middle" fill="#000" font-weight="bold" stroke="#000" stroke-width="0.35" textLength="17.80" lengthAdjust="spacingAndGlyphs">83</text>
<text x="572.15" y="1150.80" font-size="15.5" text-anchor="middle" fill="#000" font-weight="bold" stroke="#000" stroke-width="0.35" textLength="17.80" lengthAdjust="spacingAndGlyphs">73</text>
<text x="637.35" y="1150.80" font-size="15.5" text-anchor="middle" fill="#000" font-weight="bold" stroke="#000" stroke-width="0.35" textLength="17.80" lengthAdjust="spacingAndGlyphs">11</text>
<text x="702.55" y="1150.80" font-size="15.5" text-anchor="middle" fill="#000" font-weight="bold" stroke="#000" stroke-width="0.35" textLength="26.70" lengthAdjust="spacingAndGlyphs">397</text>
</svg>
</body></html>
